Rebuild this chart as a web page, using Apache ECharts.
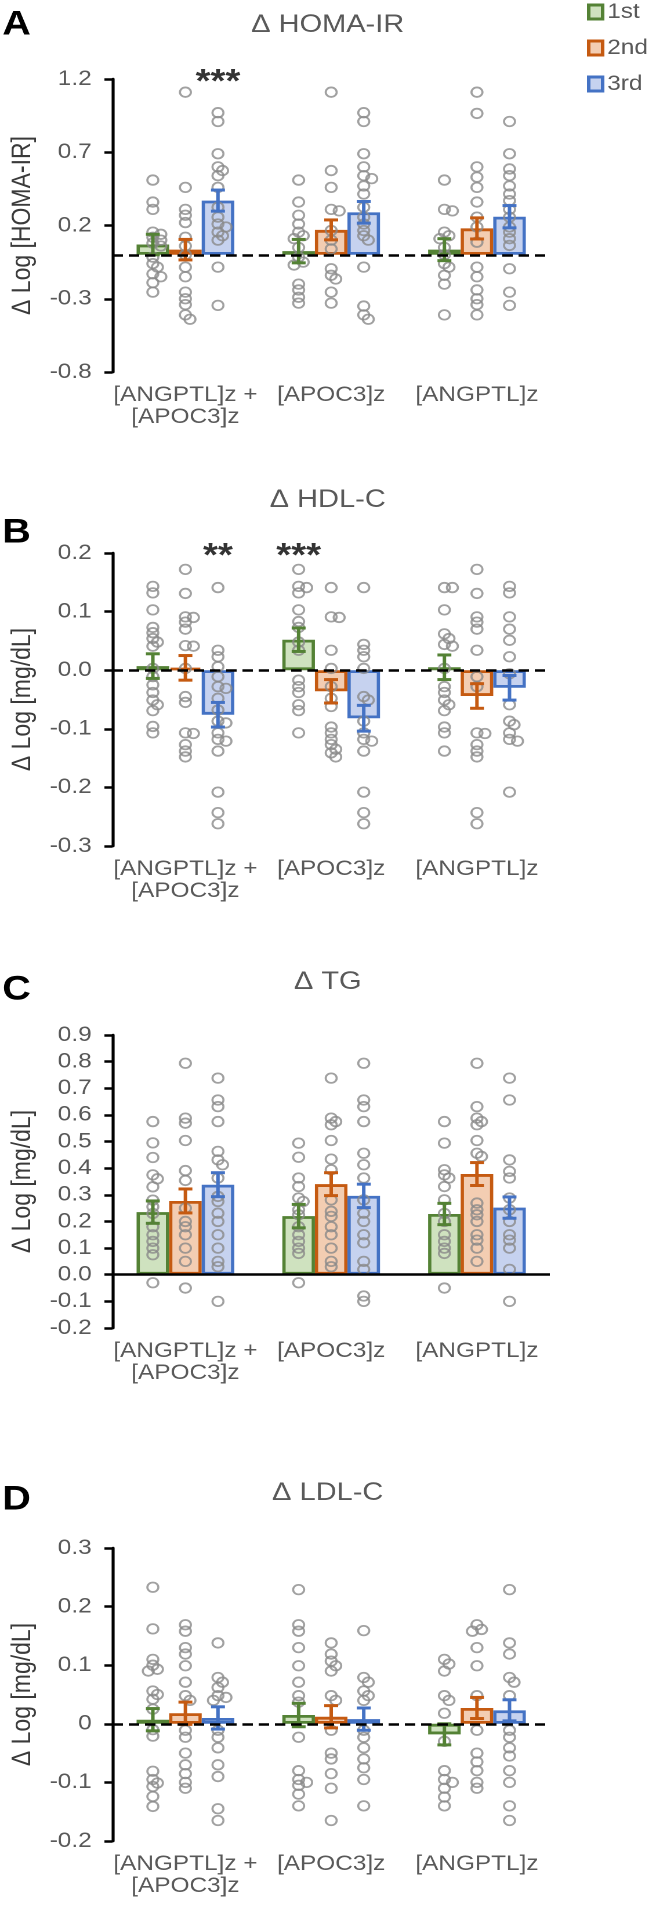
<!DOCTYPE html>
<html><head><meta charset="utf-8">
<script src="https://cdn.jsdelivr.net/npm/echarts/dist/echarts.min.js"></script>
<style>
html,body{margin:0;padding:0;background:#fff;overflow:hidden}
#wrap{width:652px;height:1913px;overflow:hidden}
#c{width:562px;height:1913px;transform:scaleX(1.16);transform-origin:0 0}
</style>
</head><body><div id="wrap"><div id="c"></div></div>
<script>
// ---------- data ----------
const categories = ['[ANGPTL]z +\n[APOC3]z', '[APOC3]z', '[ANGPTL]z'];
const seriesNames = ['1st', '2nd', '3rd'];

// Panel A: Δ HOMA-IR
const homaMean_1st = [0.07, 0.025, 0.035];
const homaMean_2nd = [0.035, 0.17, 0.18];
const homaMean_3rd = [0.37, 0.29, 0.26];
const homaSE_1st = [0.07, 0.08, 0.075];
const homaSE_2nd = [0.07, 0.068, 0.072];
const homaSE_3rd = [0.072, 0.074, 0.076];
const homaPts_1st = [
  [0.51, 0.36, 0.31, 0.155, 0.14, 0.12, 0.10, 0.08, 0.06, -0.016, -0.06, -0.084, -0.13, -0.15, -0.19, -0.255],
  [0.51, 0.36, 0.27, 0.21, 0.155, 0.13, 0.11, 0.05, -0.016, -0.05, -0.07, -0.2, -0.24, -0.29, -0.33],
  [0.51, 0.31, 0.30, 0.155, 0.13, 0.11, 0.05, 0.0, -0.06, -0.084, -0.14, -0.2, -0.41]
];
const homaPts_2nd = [
  [1.11, 0.46, 0.31, 0.27, 0.22, 0.12, 0.06, 0.0, -0.084, -0.15, -0.255, -0.3, -0.34, -0.41, -0.44],
  [1.11, 0.575, 0.46, 0.31, 0.30, 0.166, 0.1, 0.04, -0.095, -0.14, -0.165, -0.255, -0.33],
  [1.11, 0.965, 0.6, 0.53, 0.46, 0.36, 0.257, 0.19, 0.086, -0.084, -0.15, -0.24, -0.3, -0.34, -0.41]
];
const homaPts_3rd = [
  [0.97, 0.91, 0.69, 0.6, 0.575, 0.54, 0.46, 0.325, 0.257, 0.21, 0.19, 0.155, 0.13, 0.1, -0.084, -0.345],
  [0.97, 0.91, 0.69, 0.6, 0.54, 0.52, 0.47, 0.415, 0.325, 0.257, 0.21, 0.166, 0.13, 0.1, -0.084, -0.35, -0.41, -0.44],
  [0.91, 0.69, 0.586, 0.54, 0.47, 0.415, 0.37, 0.31, 0.257, 0.19, 0.155, 0.11, 0.064, -0.095, -0.255, -0.345]
];
const homaStars = [{ group: 0, series: 2, text: '***' }];

// Panel B: Δ HDL-C
const hdlMean_1st = [0.007, 0.052, 0.005];
const hdlMean_2nd = [0.004, -0.036, -0.044];
const hdlMean_3rd = [-0.076, -0.082, -0.03];
const hdlSE_1st = [0.021, 0.02, 0.021];
const hdlSE_2nd = [0.021, 0.02, 0.021];
const hdlSE_3rd = [0.021, 0.022, 0.021];
const hdlPts_1st = [
  [0.143, 0.132, 0.103, 0.073, 0.064, 0.054, 0.048, 0.041, 0.003, -0.011, -0.025, -0.038, -0.051, -0.059, -0.069, -0.096, -0.107],
  [0.172, 0.143, 0.141, 0.132, 0.103, 0.083, 0.073, 0.048, 0.034, -0.017, -0.028, -0.038, -0.059, -0.069, -0.107],
  [0.141, 0.141, 0.103, 0.062, 0.054, 0.044, 0.041, 0.003, -0.028, -0.038, -0.051, -0.059, -0.069, -0.097, -0.107, -0.138]
];
const hdlPts_2nd = [
  [0.172, 0.131, 0.091, 0.09, 0.082, 0.07, 0.042, 0.041, 0.003, -0.045, -0.055, -0.107, -0.108, -0.127, -0.138, -0.148],
  [0.141, 0.091, 0.09, 0.034, 0.003, -0.028, -0.048, -0.062, -0.097, -0.107, -0.118, -0.127, -0.135, -0.141, -0.148],
  [0.172, 0.131, 0.091, 0.082, 0.07, 0.034, -0.011, -0.028, -0.107, -0.108, -0.127, -0.138, -0.148, -0.243, -0.262]
];
const hdlPts_3rd = [
  [0.141, 0.034, 0.023, 0.006, -0.011, -0.028, -0.031, -0.048, -0.068, -0.087, -0.09, -0.107, -0.118, -0.121, -0.138, -0.208, -0.243, -0.262],
  [0.141, 0.044, 0.034, 0.023, 0.003, -0.045, -0.051, -0.087, -0.107, -0.118, -0.121, -0.138, -0.208, -0.243, -0.262],
  [0.143, 0.132, 0.091, 0.07, 0.051, 0.023, -0.006, -0.059, -0.087, -0.093, -0.107, -0.118, -0.121, -0.208]
];
const hdlStars = [{ group: 0, series: 2, text: '**' }, { group: 1, series: 0, text: '***' }];

// Panel C: Δ TG
const tgMean_1st = [0.235, 0.22, 0.228];
const tgMean_2nd = [0.277, 0.34, 0.378];
const tgMean_3rd = [0.338, 0.296, 0.252];
const tgSE_1st = [0.042, 0.044, 0.04];
const tgSE_2nd = [0.045, 0.043, 0.043];
const tgSE_3rd = [0.045, 0.044, 0.04];
const tgPts_1st = [
  [0.575, 0.495, 0.44, 0.375, 0.36, 0.33, 0.28, 0.255, 0.23, 0.18, 0.15, 0.125, 0.1, 0.075, -0.03],
  [0.494, 0.441, 0.363, 0.331, 0.288, 0.275, 0.244, 0.225, 0.18, 0.15, 0.125, 0.1, 0.08, -0.03],
  [0.575, 0.494, 0.394, 0.375, 0.363, 0.331, 0.281, 0.23, 0.2, 0.15, 0.125, 0.1, 0.08, -0.05]
];
const tgPts_2nd = [
  [0.794, 0.588, 0.569, 0.504, 0.391, 0.354, 0.25, 0.2, 0.18, 0.15, 0.1, 0.05, -0.05],
  [0.738, 0.588, 0.575, 0.563, 0.504, 0.434, 0.394, 0.281, 0.238, 0.219, 0.18, 0.15, 0.1, 0.05, 0.03],
  [0.794, 0.631, 0.588, 0.575, 0.563, 0.504, 0.456, 0.444, 0.269, 0.244, 0.225, 0.2, 0.15, 0.13, 0.1, 0.05]
];
const tgPts_3rd = [
  [0.738, 0.656, 0.631, 0.575, 0.463, 0.431, 0.413, 0.363, 0.294, 0.275, 0.231, 0.2, 0.15, 0.1, 0.05, 0.03, -0.1],
  [0.794, 0.656, 0.631, 0.575, 0.456, 0.413, 0.363, 0.281, 0.231, 0.2, 0.15, 0.12, 0.05, 0.02, -0.08, -0.1],
  [0.738, 0.656, 0.431, 0.388, 0.363, 0.288, 0.244, 0.2, 0.15, 0.13, 0.1, 0.02, -0.1]
];
const tgStars = [];

// Panel D: Δ LDL-C
const ldlMean_1st = [0.007, 0.015, -0.018];
const ldlMean_2nd = [0.018, 0.012, 0.027];
const ldlMean_3rd = [0.01, 0.008, 0.023];
const ldlSE_1st = [0.019, 0.02, 0.018];
const ldlSE_2nd = [0.019, 0.019, 0.018];
const ldlSE_3rd = [0.019, 0.019, 0.018];
const ldlPts_1st = [
  [0.233, 0.162, 0.11, 0.1, 0.093, 0.09, 0.056, 0.05, 0.042, 0.025, -0.01, -0.021, -0.081, -0.095, -0.101, -0.107, -0.124, -0.141],
  [0.229, 0.169, 0.158, 0.13, 0.099, 0.071, 0.048, 0.037, -0.023, -0.08, -0.095, -0.1, -0.105, -0.12, -0.14],
  [0.11, 0.102, 0.09, 0.048, 0.04, 0.018, -0.03, -0.08, -0.095, -0.1, -0.11, -0.125, -0.14]
];
const ldlPts_2nd = [
  [0.169, 0.158, 0.13, 0.119, 0.099, 0.071, 0.048, 0.04, -0.011, -0.023, -0.05, -0.07, -0.085, -0.1, -0.11],
  [0.138, 0.119, 0.107, 0.099, 0.09, 0.048, 0.04, -0.011, -0.05, -0.06, -0.085, -0.11, -0.165],
  [0.169, 0.161, 0.158, 0.13, 0.099, 0.048, -0.011, -0.05, -0.065, -0.08, -0.1, -0.11]
];
const ldlPts_3rd = [
  [0.138, 0.079, 0.071, 0.062, 0.048, 0.045, 0.04, -0.011, -0.023, -0.041, -0.07, -0.09, -0.145, -0.165],
  [0.159, 0.079, 0.071, 0.056, 0.048, 0.04, -0.011, -0.023, -0.041, -0.06, -0.075, -0.095, -0.14],
  [0.229, 0.138, 0.119, 0.079, 0.071, 0.048, -0.011, -0.023, -0.041, -0.055, -0.08, -0.1, -0.14, -0.165]
];
const ldlStars = [];

// ---------- styling / layout (coordinates before the horizontal 1.16 stretch) ----------
const FONT = '"Liberation Sans", Arial, sans-serif';
const borderColors = ['#548235', '#c55a11', '#4472c4'];
const fillColors = ['#cfe2bf', '#f3cdb2', '#c6d2ef'];
const GRID_LEFT = 91, GRID_W = 383, GRID_H = 293;
const CAT_GAP = 0.33;
const barFrac = (1 - CAT_GAP) / 3;

const fmt1 = v => (Math.abs(v) < 1e-9 ? '0.0' : v.toFixed(1));
const fmtD = v => (Math.abs(v) < 1e-9 ? '0' : v.toFixed(1));

const panels = [
  { letter: 'A', title: 'Δ HOMA-IR', yName: 'Δ Log [HOMA-IR]', min: -0.8, max: 1.2, interval: 0.5,
    means: [homaMean_1st, homaMean_2nd, homaMean_3rd], se: [homaSE_1st, homaSE_2nd, homaSE_3rd],
    pts: [homaPts_1st, homaPts_2nd, homaPts_3rd], stars: homaStars, dashed: true,
    top: 79, titleY: 25, letterY: 25, fmt: fmt1 },
  { letter: 'B', title: 'Δ HDL-C', yName: 'Δ Log [mg/dL]', min: -0.3, max: 0.2, interval: 0.1,
    means: [hdlMean_1st, hdlMean_2nd, hdlMean_3rd], se: [hdlSE_1st, hdlSE_2nd, hdlSE_3rd],
    pts: [hdlPts_1st, hdlPts_2nd, hdlPts_3rd], stars: hdlStars, dashed: true,
    top: 553, titleY: 500, letterY: 533, fmt: fmt1 },
  { letter: 'C', title: 'Δ TG', yName: 'Δ Log [mg/dL]', min: -0.2, max: 0.9, interval: 0.1,
    means: [tgMean_1st, tgMean_2nd, tgMean_3rd], se: [tgSE_1st, tgSE_2nd, tgSE_3rd],
    pts: [tgPts_1st, tgPts_2nd, tgPts_3rd], stars: tgStars, dashed: false,
    top: 1035, titleY: 982, letterY: 990, fmt: fmt1 },
  { letter: 'D', title: 'Δ LDL-C', yName: 'Δ Log [mg/dL]', min: -0.2, max: 0.3, interval: 0.1,
    means: [ldlMean_1st, ldlMean_2nd, ldlMean_3rd], se: [ldlSE_1st, ldlSE_2nd, ldlSE_3rd],
    pts: [ldlPts_1st, ldlPts_2nd, ldlPts_3rd], stars: ldlStars, dashed: true,
    top: 1548, titleY: 1493, letterY: 1500, fmt: fmtD }
];

// simple beeswarm: small horizontal offsets (px) for near-coincident points
function swarm(vals, pxPerY) {
  const placed = [];
  const cands = [0, 4, -4, 7, -7];
  return vals.map(v => {
    const y = v * pxPerY;
    let off = 0;
    for (const c of cands) {
      if (placed.every(p => Math.hypot(p[0] - c, p[1] - y) >= 5)) { off = c; break; }
    }
    placed.push([off, y]);
    return off;
  });
}

const grid = [], xAxis = [], yAxis = [], series = [], graphic = [];
const pxPerX = GRID_W / 3;

panels.forEach((p, i) => {
  grid.push({ left: GRID_LEFT, width: GRID_W, top: p.top, height: GRID_H });
  xAxis.push({
    gridIndex: i, type: 'category', data: categories,
    axisLine: { show: false, onZero: false }, axisTick: { show: false },
    axisLabel: { interval: 0, fontSize: 21, lineHeight: 22, color: '#595959', margin: 12, fontFamily: FONT }
  });
  xAxis.push({ gridIndex: i, type: 'value', min: 0, max: 3, show: false });
  yAxis.push({
    gridIndex: i, type: 'value', min: p.min, max: p.max, interval: p.interval,
    name: p.yName, nameLocation: 'middle', nameGap: 66, nameRotate: 90,
    nameTextStyle: { fontSize: 23, color: '#3a3a3a', fontFamily: FONT },
    axisLine: { show: true, lineStyle: { color: '#000', width: 2.6 } },
    axisTick: { show: true, length: 7, lineStyle: { color: '#000', width: 2.5 } },
    axisLabel: { fontSize: 21, color: '#595959', margin: 18, fontFamily: FONT, formatter: p.fmt },
    splitLine: { show: false }
  });
  const pxPerY = GRID_H / (p.max - p.min);

  // bars
  for (let k = 0; k < 3; k++) {
    series.push({
      type: 'bar', name: seriesNames[k], xAxisIndex: 2 * i, yAxisIndex: i,
      data: p.means[k], barGap: '0%', barCategoryGap: (CAT_GAP * 100) + '%',
      itemStyle: { color: fillColors[k], borderColor: borderColors[k], borderWidth: 2.8 },
      z: 2, silent: true
    });
  }
  // scatter points
  for (let k = 0; k < 3; k++) {
    const data = [];
    p.pts[k].forEach((vals, g) => {
      const cx = g + 0.5 + (k - 1) * barFrac;
      const offs = swarm(vals, pxPerY);
      vals.forEach((v, j) => data.push([cx + offs[j] / pxPerX, v]));
    });
    series.push({
      type: 'scatter', xAxisIndex: 2 * i + 1, yAxisIndex: i, data,
      symbol: 'circle', symbolSize: 9.5,
      itemStyle: { color: 'rgba(0,0,0,0)', borderColor: '#8a8a8a', borderWidth: 1.8 },
      z: 3, silent: true
    });
  }
  // error bars
  for (let k = 0; k < 3; k++) {
    const color = borderColors[k];
    series.push({
      type: 'custom', xAxisIndex: 2 * i + 1, yAxisIndex: i,
      data: p.means[k].map((m, g) => [g + 0.5 + (k - 1) * barFrac, m, p.se[k][g]]),
      encode: { x: 0, y: 1 },
      renderItem: (params, api) => {
        const x = api.value(0), m = api.value(1), s = api.value(2);
        const t = api.coord([x, m + s]), b = api.coord([x, m - s]);
        const hw = 6, st = { stroke: color, lineWidth: 3 };
        return { type: 'group', children: [
          { type: 'line', shape: { x1: t[0], y1: t[1], x2: b[0], y2: b[1] }, style: st },
          { type: 'line', shape: { x1: t[0] - hw, y1: t[1], x2: t[0] + hw, y2: t[1] }, style: st },
          { type: 'line', shape: { x1: b[0] - hw, y1: b[1], x2: b[0] + hw, y2: b[1] }, style: st }
        ] };
      },
      z: 4, silent: true
    });
  }
  // stars + zero line
  series.push({
    type: 'scatter', xAxisIndex: 2 * i + 1, yAxisIndex: i, clip: false,
    data: p.stars.map(s => ({ value: [s.group + 0.5 + (s.series - 1) * barFrac, p.max], label: { formatter: s.text } })),
    symbolSize: 1, itemStyle: { color: 'rgba(0,0,0,0)' },
    label: { show: true, position: 'inside', fontSize: 33, fontWeight: 'bold', color: '#000', fontFamily: FONT, offset: [0, 4] },
    z: 5, silent: true,
    markLine: {
      silent: true, symbol: ['none', 'none'], label: { show: false },
      lineStyle: { color: '#000', width: 2.6, type: p.dashed ? [9, 5] : 'solid' },
      data: [{ yAxis: 0 }], animation: false
    }
  });

  graphic.push({ type: 'text', x: 2, y: p.letterY, style: { text: p.letter, font: 'bold 34px ' + FONT, fill: '#000', align: 'left', verticalAlign: 'middle', textAlign: 'left', textVerticalAlign: 'middle' } });
  graphic.push({ type: 'text', x: GRID_LEFT + GRID_W / 2, y: p.titleY, style: { text: p.title, font: '25px ' + FONT, fill: '#595959', align: 'center', verticalAlign: 'middle', textAlign: 'center', textVerticalAlign: 'middle' } });
});

const option = {
  animation: false,
  backgroundColor: '#fff',
  grid, xAxis, yAxis, series, graphic,
  legend: {
    data: seriesNames, orient: 'vertical', left: 506, top: 1, padding: 0,
    icon: 'rect', itemWidth: 12, itemHeight: 14, itemGap: 14, selectedMode: false,
    itemStyle: { borderWidth: 3 },
    textStyle: { fontSize: 21, lineHeight: 22, color: '#595959', fontFamily: FONT, padding: [0, 0, 0, -1] }
  }
};

const chart = echarts.init(document.getElementById('c'), null, { renderer: 'canvas', devicePixelRatio: 2 });
chart.setOption(option);
</script></body></html>
